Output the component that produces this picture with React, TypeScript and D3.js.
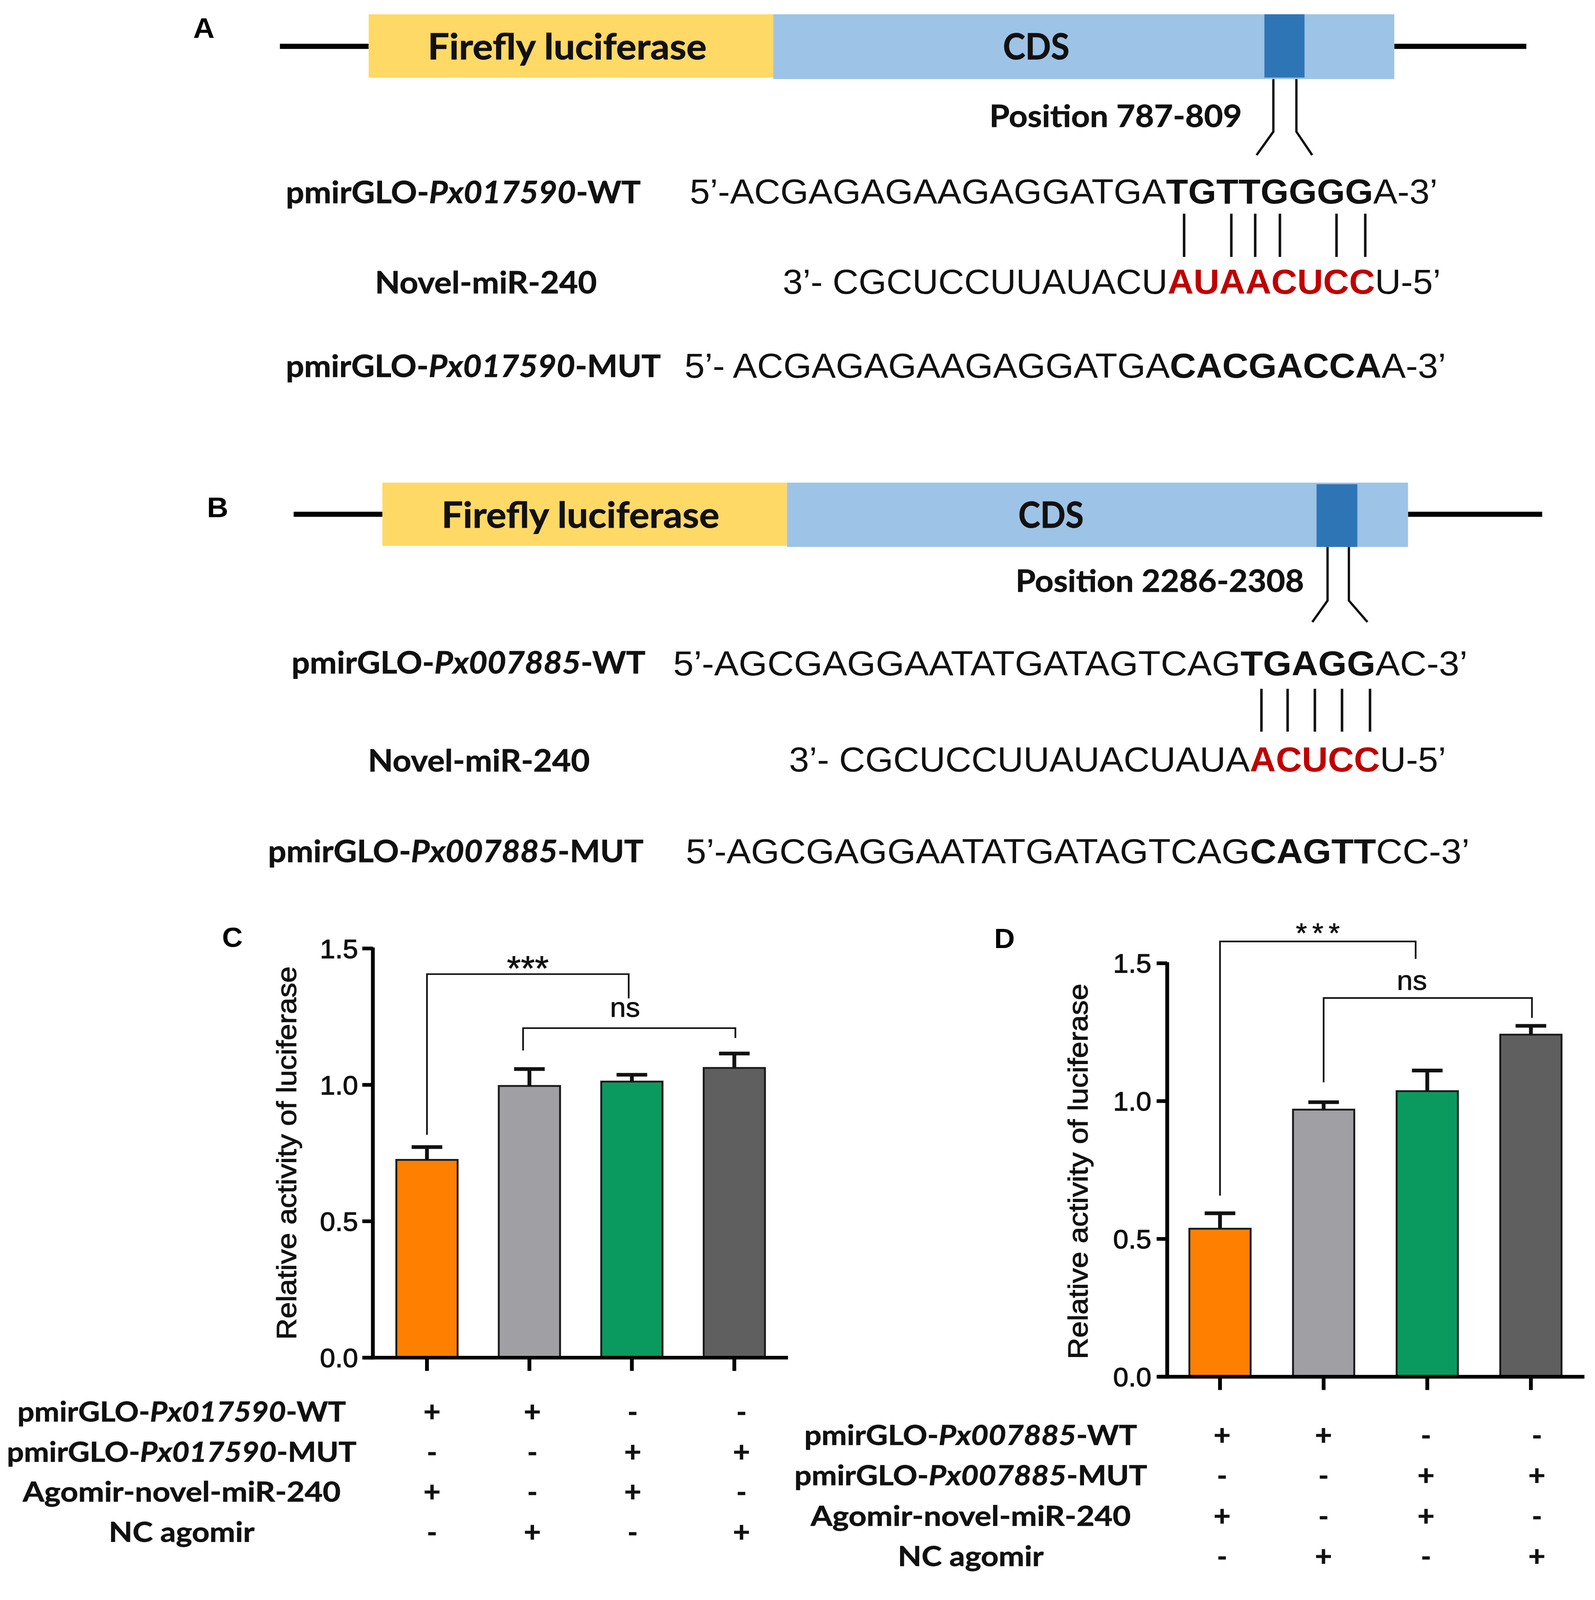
import React from 'react';
import * as d3 from 'd3';

// ---------------- DATA ----------------
const groups = ['G1', 'G2', 'G3', 'G4'];
const meanC = [0.725, 0.996, 1.012, 1.062];
const semC = [0.047, 0.062, 0.025, 0.053];
const meanD = [0.537, 0.969, 1.036, 1.241];
const semD = [0.056, 0.027, 0.075, 0.032];
const yTicks = [0, 0.5, 1.0, 1.5];
const yTitle = 'Relative activity of luciferase';

const rowNamesC = [
  ['pmirGLO-', 'Px017590', '-WT'],
  ['pmirGLO-', 'Px017590', '-MUT'],
  ['Agomir-novel-miR-240', '', ''],
  ['NC agomir', '', ''],
];
const rowNamesD = [
  ['pmirGLO-', 'Px007885', '-WT'],
  ['pmirGLO-', 'Px007885', '-MUT'],
  ['Agomir-novel-miR-240', '', ''],
  ['NC agomir', '', ''],
];
const signs = [
  ['+', '+', '-', '-'],
  ['-', '-', '+', '+'],
  ['+', '-', '+', '-'],
  ['-', '+', '-', '+'],
];
const sigC = [
  { a: 0, b: 2, top: 1.406, endA: 0.817, endB: 1.317, text: '***', textY: 1.384 },
  { a: 1, b: 3, top: 1.208, endA: 1.126, endB: 1.172, text: 'ns', textY: 1.25 },
];
const sigD = [
  { a: 0, b: 2, top: 1.579, endA: 0.657, endB: 1.516, text: '***', textY: 1.575 },
  { a: 1, b: 3, top: 1.374, endA: 1.068, endB: 1.302, text: 'ns', textY: 1.404 },
];

const seqA = {
  name: 'Px017590',
  position: 'Position 787-809',
  wt: [['5’-ACGAGAGAAGAGGATGA', ''], ['TGTTGGGG', 'b'], ['A-3’', '']],
  mir: [['3’- CGCUCCUUAUACU', ''], ['AUAACUCC', 'r'], ['U-5’', '']],
  mut: [['5’- ACGAGAGAAGAGGATGA', ''], ['CACGACCA', 'b'], ['A-3’', '']],
};
const seqB = {
  name: 'Px007885',
  position: 'Position 2286-2308',
  wt: [['5’-AGCGAGGAATATGATAGTCAG', ''], ['TGAGG', 'b'], ['AC-3’', '']],
  mir: [['3’- CGCUCCUUAUACUAUA', ''], ['ACUCC', 'r'], ['U-5’', '']],
  mut: [['5’-AGCGAGGAATATGATAGTCAG', ''], ['CAGTT', 'b'], ['CC-3’', '']],
};
const mirName = 'Novel-miR-240';

// ---------------- STYLE / LAYOUT ----------------
const W = 1510;
const H = 1568;
const PX_W = 4083;
const PX_H = 4096; // the photographed area is 4096 px tall
const barColors = ['#FF8000', '#A0A0A4', '#0A9A60', '#5F5F5F'];
const CAL = 'Lato, "Open Sans", sans-serif';
const ARIAL = '"Liberation Sans", Arial, sans-serif';
const YELLOW = '#FFD966';
const LBLUE = '#9DC3E6';
const DBLUE = '#2E75B6';
const RED = '#C00000';

const layoutA = {
  letter: { x: 193, y: 37 },
  lineY: 45.4, lines: [[265, 349], [1320, 1445]],
  yellow: [349, 732, 14, 76], blue: [732, 1320, 14, 77.5], dark: [1197, 1235, 14, 76],
  fl: { cx: 537, y: 58, w: 264 }, cds: { cx: 981, y: 58, w: 63 },
  pos: { x: 936.7, y: 124.4, w: 239 },
  conn: { x1: 1205.5, x2: 1227.3, y0: 77.5, y1: 129, xa: 1189.6, xb: 1242.3, y2: 152 },
  wtLabel: { x: 270.6, y: 199, w: 336 }, wtSeq: { x: 653, y: 199.5, w: 708 },
  pairs: { xs: [1121, 1165.7, 1188.3, 1211.7, 1265.3, 1292.5], y0: 209.4, y1: 251.8 },
  mirLabel: { x: 355, y: 287.5, w: 210 }, mirSeq: { x: 741, y: 288, w: 623 },
  mutLabel: { x: 270.6, y: 369.5, w: 355 }, mutSeq: { x: 648, y: 370, w: 721 },
};
const layoutB = {
  letter: { x: 206, y: 507 },
  lineY: 504, lines: [[278, 362], [1333, 1460]],
  yellow: [362, 745, 473, 535], blue: [745, 1333, 473, 536], dark: [1246.4, 1285, 474.5, 536],
  fl: { cx: 549.5, y: 517, w: 263 }, cds: { cx: 995, y: 517, w: 62 },
  pos: { x: 961.5, y: 580, w: 273 },
  conn: { x1: 1256.8, x2: 1277, y0: 536, y1: 588.6, xa: 1242.4, xb: 1294.6, y2: 609.6 },
  wtLabel: { x: 276, y: 660, w: 335 }, wtSeq: { x: 637.3, y: 662, w: 752 },
  pairs: { xs: [1194.2, 1219, 1244.8, 1270.5, 1297], y0: 675, y1: 717 },
  mirLabel: { x: 348.4, y: 756, w: 210 }, mirSeq: { x: 747, y: 756, w: 622 },
  mutLabel: { x: 253.7, y: 845, w: 355.5 }, mutSeq: { x: 649.3, y: 846, w: 742 },
};

const layoutC = {
  letter: { x: 220, y: 928 },
  axisX: 353, top: 929.5, bottom: 1330.5, xEnd: 746,
  band: [353, 746.4], pIn: 0.402, pOut: 0.229,
  tickLabelX: 339, titleX: 280.5, titleCY: 1130, titleW: 366,
  rowCX: 172, rowY0: 1393, rowStep: 39.3, rowW: [311, 331, 301, 138],
  cols: [409, 504, 599, 702],
  sigDx: [[0, -3, 0], [-6, 1, -4]],
  starSize: 34, starSpacing: 0,
};
const layoutD = {
  letter: { x: 951, y: 929 },
  axisX: 1105, top: 944, bottom: 1349.2, xEnd: 1500,
  band: [1105, 1499.3], pIn: 0.409, pOut: 0.214,
  tickLabelX: 1090, titleX: 1029.5, titleCY: 1148, titleW: 368,
  rowCX: 919, rowY0: 1416, rowStep: 39.6, rowW: [315, 334, 303, 138],
  cols: [1157, 1253, 1350, 1455],
  sigDx: [[0, -11, 0], [0, 1, -15]],
  starSize: 27, starSpacing: 5,
};

// ---------------- COMPONENTS ----------------
function Seq({ x, y, w, parts }: any) {
  return (
    <text x={x} y={y} textLength={w} lengthAdjust="spacingAndGlyphs" fontFamily={ARIAL} fontSize={34} fill="#111">
      {parts.map((p: any, i: number) => (
        <tspan key={i} fontWeight={p[1] ? 'bold' : 'normal'} fill={p[1] === 'r' ? RED : '#111'}>
          {p[0]}
        </tspan>
      ))}
    </text>
  );
}

function Label({ x, y, w, parts, size = 30, anchor = 'start' }: any) {
  return (
    <text x={x} y={y} textLength={w} lengthAdjust="spacingAndGlyphs" fontFamily={CAL} fontWeight="bold"
      fontSize={size} textAnchor={anchor} fill="#111" stroke="#111" strokeWidth={0.35}>
      {parts.filter((p: string) => p !== '').map((p: string, i: number) => (
        <tspan key={i} fontStyle={i === 1 && parts[1] !== '' ? 'italic' : 'normal'}>{p}</tspan>
      ))}
    </text>
  );
}

function Construct({ L, S, letter }: any) {
  const c = L.conn;
  return (
    <g>
      <text x={L.letter.x} y={L.letter.y} textAnchor="middle" fontFamily={ARIAL} fontWeight="bold" fontSize={28}>{letter}</text>
      {L.lines.map((l: number[], i: number) => (
        <line key={i} x1={l[0]} x2={l[1]} y1={L.lineY} y2={L.lineY} stroke="#000" strokeWidth={5} />
      ))}
      <rect x={L.yellow[0]} y={L.yellow[2]} width={L.yellow[1] - L.yellow[0]} height={L.yellow[3] - L.yellow[2]} fill={YELLOW} />
      <rect x={L.blue[0]} y={L.blue[2]} width={L.blue[1] - L.blue[0]} height={L.blue[3] - L.blue[2]} fill={LBLUE} />
      <rect x={L.dark[0]} y={L.dark[2]} width={L.dark[1] - L.dark[0]} height={L.dark[3] - L.dark[2]} fill={DBLUE} />
      <text x={L.fl.cx} y={L.fl.y} textAnchor="middle" textLength={L.fl.w} lengthAdjust="spacingAndGlyphs"
        fontFamily={CAL} fontWeight="bold" fontSize={35} fill="#111" stroke="#111" strokeWidth={0.4}>Firefly luciferase</text>
      <text x={L.cds.cx} y={L.cds.y} textAnchor="middle" textLength={L.cds.w} lengthAdjust="spacingAndGlyphs"
        fontFamily={CAL} fontWeight="bold" fontSize={35} fill="#111" stroke="#111" strokeWidth={0.4}>CDS</text>
      <text x={L.pos.x} y={L.pos.y} textLength={L.pos.w} lengthAdjust="spacingAndGlyphs"
        fontFamily={CAL} fontWeight="bold" fontSize={30} fill="#111" stroke="#111" strokeWidth={0.35}>{S.position}</text>
      <path d={`M${c.x1},${c.y0} V${c.y1} L${c.xa},${c.y2} M${c.x2},${c.y0} V${c.y1} L${c.xb},${c.y2}`}
        fill="none" stroke="#111" strokeWidth={2.2} />
      <Label x={L.wtLabel.x} y={L.wtLabel.y} w={L.wtLabel.w} parts={['pmirGLO-', S.name, '-WT']} />
      <Seq x={L.wtSeq.x} y={L.wtSeq.y} w={L.wtSeq.w} parts={S.wt} />
      {L.pairs.xs.map((px: number, i: number) => (
        <line key={i} x1={px} x2={px} y1={L.pairs.y0} y2={L.pairs.y1} stroke="#111" strokeWidth={2.4} />
      ))}
      <Label x={L.mirLabel.x} y={L.mirLabel.y} w={L.mirLabel.w} parts={[mirName, '', '']} />
      <Seq x={L.mirSeq.x} y={L.mirSeq.y} w={L.mirSeq.w} parts={S.mir} />
      <Label x={L.mutLabel.x} y={L.mutLabel.y} w={L.mutLabel.w} parts={['pmirGLO-', S.name, '-MUT']} />
      <Seq x={L.mutSeq.x} y={L.mutSeq.y} w={L.mutSeq.w} parts={S.mut} />
    </g>
  );
}

function BarPanel({ L, means, sems, sig, rows, letter }: any) {
  const y = d3.scaleLinear().domain([0, 1.5]).range([L.bottom, L.top]);
  const x = d3.scaleBand().domain(groups).range(L.band).paddingInner(L.pIn).paddingOuter(L.pOut);
  const bw = x.bandwidth();
  const cx = (i: number) => (x(groups[i]) as number) + bw / 2;
  return (
    <g>
      <text x={L.letter.x} y={L.letter.y} textAnchor="middle" fontFamily={ARIAL} fontWeight="bold" fontSize={27}>{letter}</text>
      {/* bars */}
      {groups.map((g, i) => (
        <rect key={g} x={x(g)} y={y(means[i])} width={bw} height={y(0) - y(means[i])}
          fill={barColors[i]} stroke="#1a1a1a" strokeWidth={1.8} />
      ))}
      {/* error bars */}
      {groups.map((g, i) => (
        <g key={g} stroke="#111" strokeWidth={3.6} fill="none">
          <line x1={cx(i)} x2={cx(i)} y1={y(means[i])} y2={y(means[i] + sems[i])} />
          <line x1={cx(i) - bw / 4} x2={cx(i) + bw / 4} y1={y(means[i] + sems[i])} y2={y(means[i] + sems[i])} />
        </g>
      ))}
      {/* axes */}
      <line x1={L.axisX} x2={L.axisX} y1={L.top - 1} y2={L.bottom + 1.8} stroke="#000" strokeWidth={3.6} />
      <line x1={L.axisX - 9} x2={L.xEnd} y1={L.bottom} y2={L.bottom} stroke="#000" strokeWidth={3.6} />
      {yTicks.map((t) => (
        <g key={t}>
          <line x1={L.axisX - 10} x2={L.axisX} y1={y(t)} y2={y(t)} stroke="#000" strokeWidth={3.6} />
          <text x={L.tickLabelX} y={y(t)} dy="0.36em" textAnchor="end" fontFamily={ARIAL} fontSize={26}
            fill="#111" stroke="#111" strokeWidth={0.6}>
            {d3.format('.1f')(t)}
          </text>
        </g>
      ))}
      {groups.map((g, i) => (
        <line key={g} x1={cx(i)} x2={cx(i)} y1={L.bottom} y2={L.bottom + 13} stroke="#000" strokeWidth={3.6} />
      ))}
      <text transform={`translate(${L.titleX},${L.titleCY}) rotate(-90)`} textAnchor="middle"
        textLength={L.titleW} lengthAdjust="spacingAndGlyphs" fontFamily={ARIAL} fontSize={26}
        fill="#111" stroke="#111" strokeWidth={0.5}>{yTitle}</text>
      {/* significance */}
      {sig.map((s: any, k: number) => {
        const dx = L.sigDx[k];
        const xa = cx(s.a) + dx[0];
        const xb = cx(s.b) + dx[1];
        const isStar = s.text === '***';
        return (
          <g key={k}>
            <path d={`M${xa},${y(s.endA)} V${y(s.top)} H${xb} V${y(s.endB)}`} fill="none" stroke="#111" strokeWidth={1.6} />
            <text x={(xa + xb) / 2 + dx[2] + (isStar ? L.starSpacing / 2 : 0)} y={y(s.textY)} textAnchor="middle"
              fontFamily={ARIAL} fontSize={isStar ? L.starSize : 27} letterSpacing={isStar ? L.starSpacing : 0}
              fill="#111" stroke="#111" strokeWidth={0.4}>{s.text}</text>
          </g>
        );
      })}
      {/* condition table */}
      {rows.map((r: string[], j: number) => (
        <g key={j}>
          <Label x={L.rowCX} y={L.rowY0 + j * L.rowStep} w={L.rowW[j]} parts={r} size={27} anchor="middle" />
          {signs[j].map((sgn, i) => (
            <text key={i} x={L.cols[i]} y={L.rowY0 + j * L.rowStep} textAnchor="middle" fontFamily={CAL}
              fontWeight="bold" fontSize={sgn === '+' ? 28 : 26} fill="#111" stroke="#111" strokeWidth={0.4}>{sgn}</text>
          ))}
        </g>
      ))}
    </g>
  );
}

export default function App() {
  return (
    <svg width={PX_W} height={PX_H} viewBox={`0 0 ${W} ${H}`} preserveAspectRatio="none"
      style={{ position: 'absolute', left: 0, top: 0, background: '#fff' }}>
      <rect x={0} y={0} width={W} height={H} fill="#fff" />
      <Construct L={layoutA} S={seqA} letter="A" />
      <Construct L={layoutB} S={seqB} letter="B" />
      <BarPanel L={layoutC} means={meanC} sems={semC} sig={sigC} rows={rowNamesC} letter="C" />
      <BarPanel L={layoutD} means={meanD} sems={semD} sig={sigD} rows={rowNamesD} letter="D" />
    </svg>
  );
}
